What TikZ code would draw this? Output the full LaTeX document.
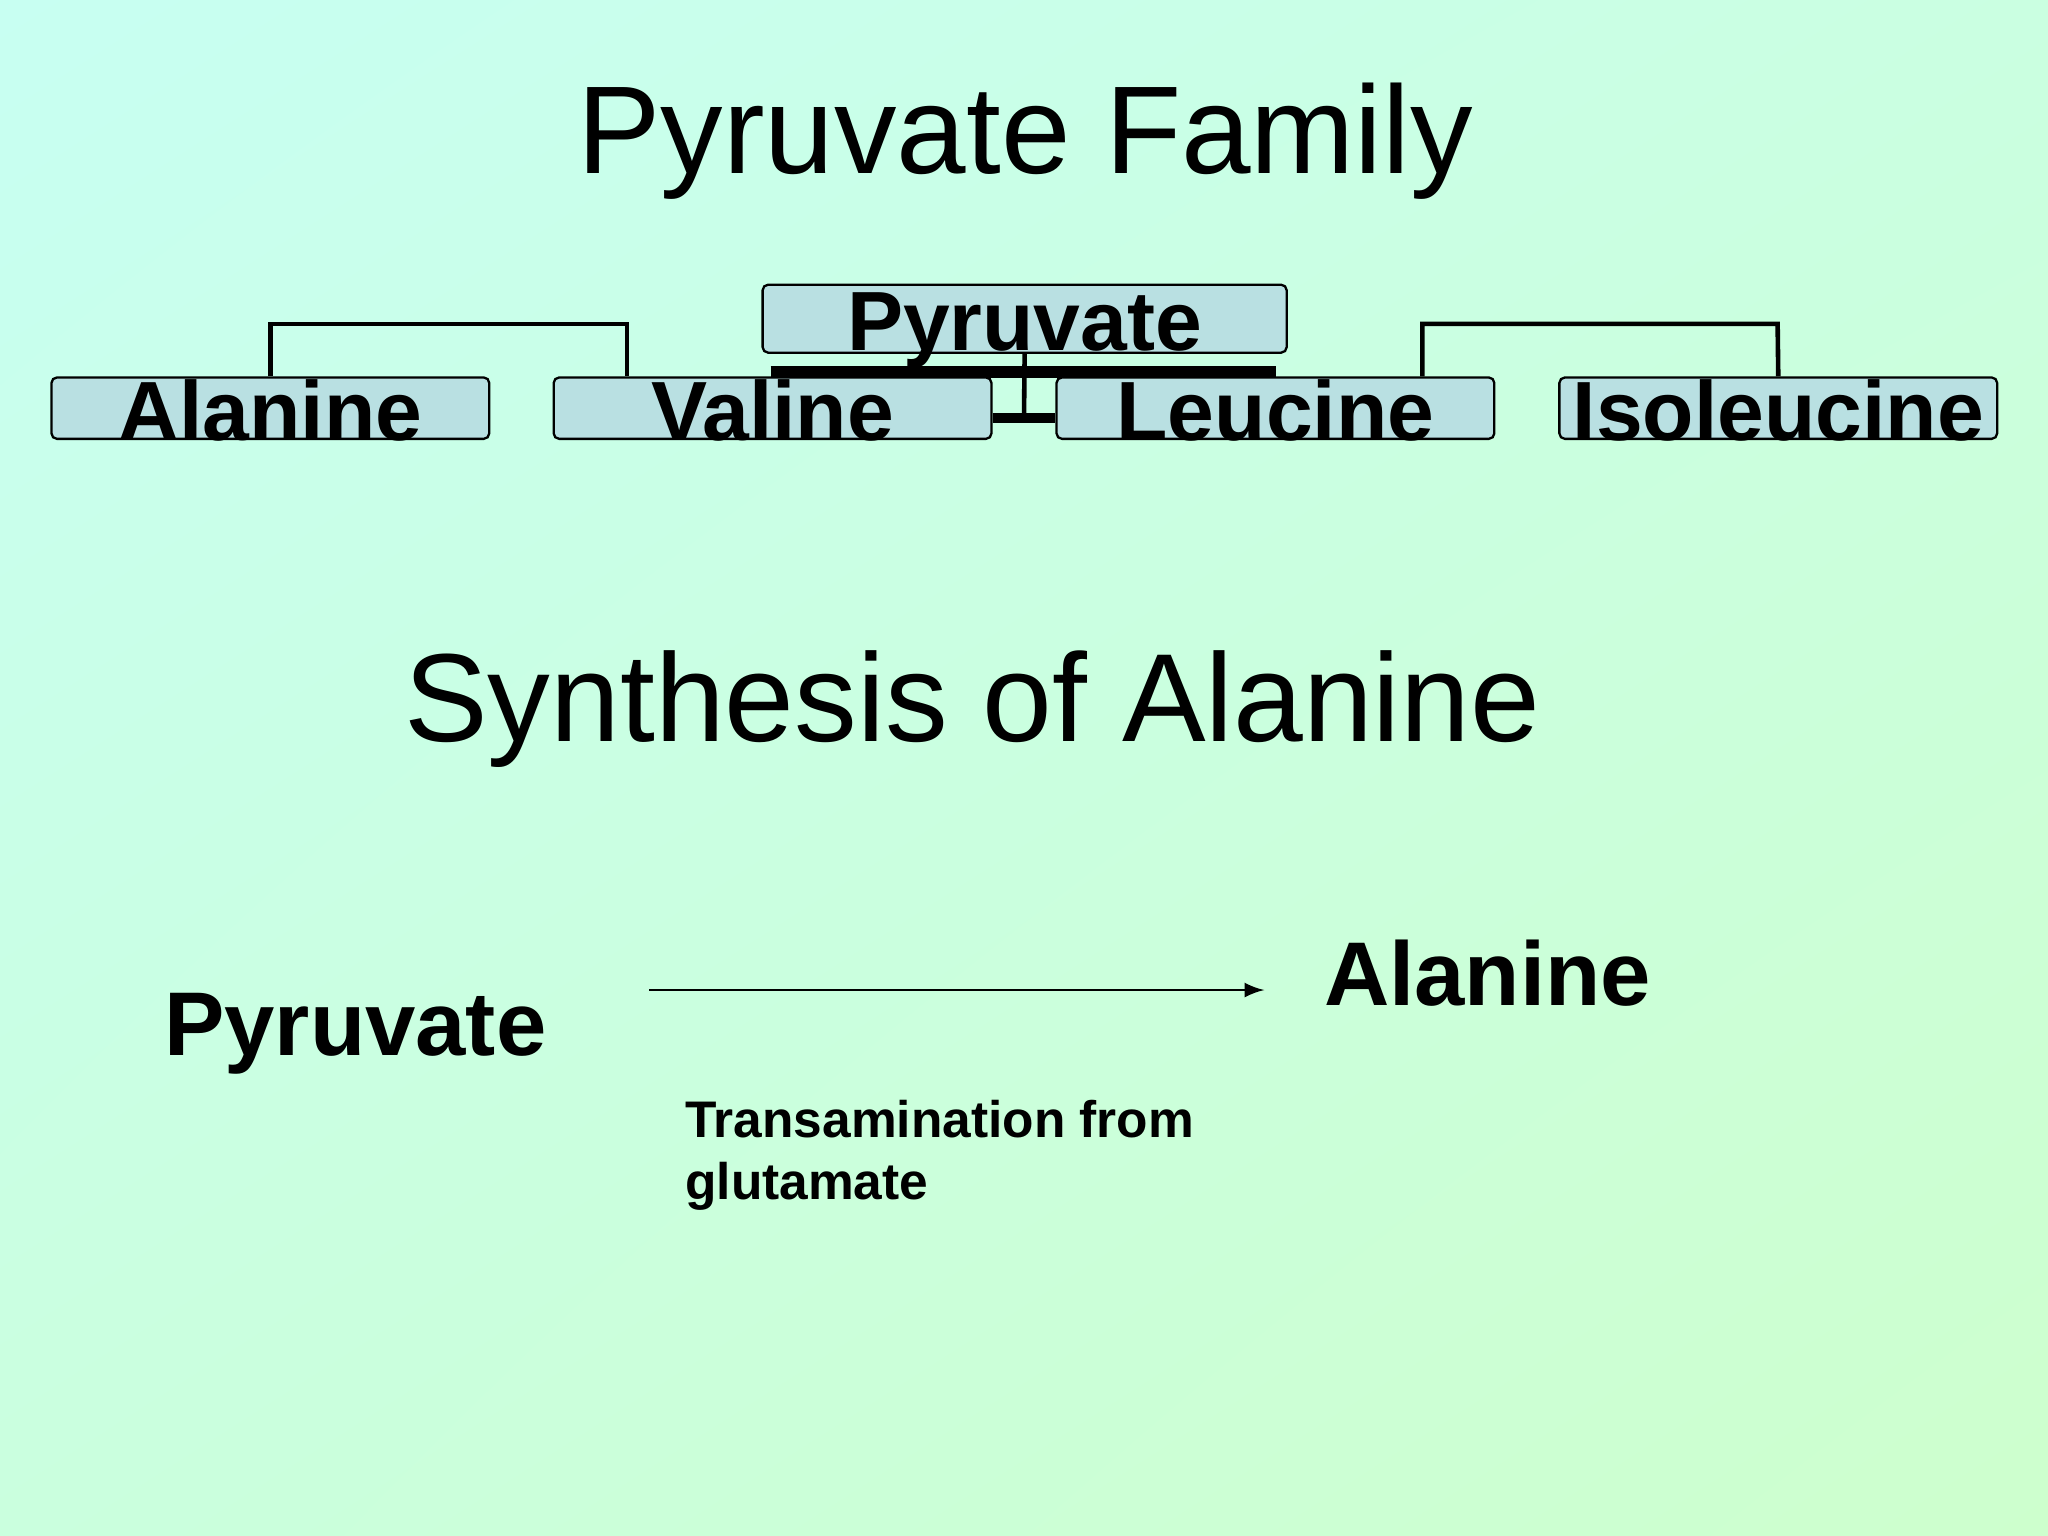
\documentclass[tikz,border=0pt]{standalone}
\usepackage{fontspec}
\usetikzlibrary{shadings}
\setmainfont{Liberation Sans}
\definecolor{boxfill}{RGB}{185,224,226}
\definecolor{bgul}{RGB}{200,255,242}
\definecolor{bgur}{RGB}{202,255,225}
\definecolor{bgll}{RGB}{202,255,222}
\definecolor{bglr}{RGB}{205,255,205}
\begin{document}
\begin{tikzpicture}[x=0.01cm,y=-0.01cm,
  box/.style={draw=black,fill=boxfill,rounded corners=1.2pt,line width=0.5pt,minimum width=3.35cm,minimum height=0.47cm,inner sep=0pt},
  boxtxt/.style={font=\fontsize{18.3}{20}\selectfont\bfseries,inner sep=0pt},
  conn/.style={line width=1pt}]
\useasboundingbox (0,0) rectangle (1568,1176);
\shade[upper left=bgul,upper right=bgur,lower left=bgll,lower right=bglr] (0,0) rectangle (1568,1176);
\node[font=\fontsize{27.2}{30}\selectfont,anchor=base] (t1) at (785,133) {Pyruvate Family};
\coordinate (la) at (207,248); \coordinate (lb) at (480,248);
\coordinate (ra) at (1089,248); \coordinate (rb) at (1361,248);
\node[box,minimum width=4.01cm,minimum height=0.52cm] (p) at (784.5,244) {};
\node[box] (al) at (207,312.5) {};
\node[box] (va) at (591.5,312.5) {};
\node[box] (le) at (976.5,312.5) {};
\node[box] (is) at (1361.5,312.5) {};
\draw[conn] (al.north) -- (la) -- (lb) -- (va.north -| lb);
\draw[conn] (le.north -| ra) -- (ra) -- (rb) -- (is.north);
\draw[line width=2.5pt] (590,285) -- (977,285);
\draw[conn] (p.south) -- (784,320);
\draw[line width=2pt] (va.east |- 0,320) -- (le.west |- 0,320);
\node[boxtxt,anchor=base] at (784.5,268) {Pyruvate};
\node[boxtxt,anchor=base] at (207,337) {Alanine};
\node[boxtxt,anchor=base] at (591.5,337) {Valine};
\node[boxtxt,anchor=base] at (976.5,337) {Leucine};
\node[boxtxt,anchor=base] at (1361.5,337) {Isoleucine};
\node[font=\fontsize{27.3}{30}\selectfont,anchor=base] (t2) at (744.5,568) {Synthesis of Alanine};
\node[font=\fontsize{19.7}{22}\selectfont\bfseries,anchor=base west,inner sep=0pt] (py) at (125,808) {Pyruvate};
\node[font=\fontsize{19.7}{22}\selectfont\bfseries,anchor=base west,inner sep=0pt] (an) at (1013,770) {Alanine};
\coordinate (a0) at (497,758); \coordinate (a1) at (968,758);
\draw[-latex,line width=0.5pt] (a0) -- (a1);
\node[font=\fontsize{11.2}{13.3}\selectfont\bfseries,anchor=north west,align=left,inner sep=0pt] (tr) at (524,842) {Transamination from\\glutamate};
\end{tikzpicture}
\end{document}
